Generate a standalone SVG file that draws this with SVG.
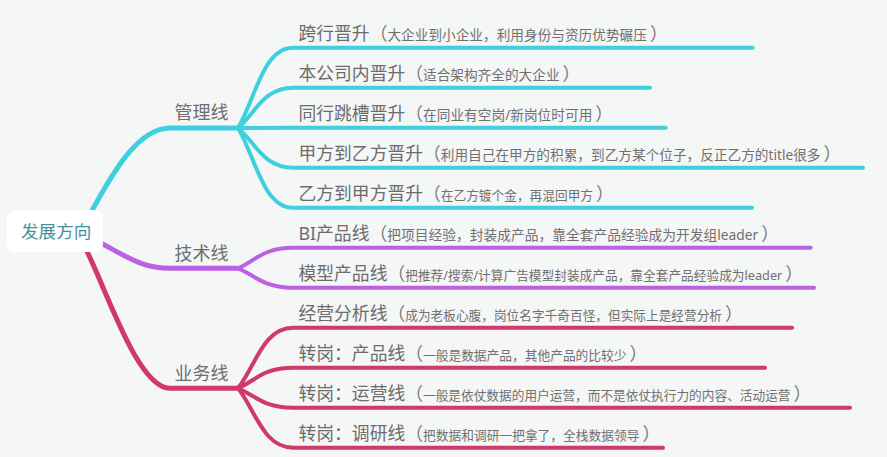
<svg xmlns="http://www.w3.org/2000/svg" width="887" height="457" viewBox="0 0 887 457">
<style>
text{font-family:"Noto Sans","Noto Sans CJK SC",sans-serif;fill:#6c6c6c}
.m{font-size:17.8px}
.p{font-size:17.8px;fill:#7a7a7a}
.s{fill:#707070}
.br{font-size:18px;fill:#6e6e6e}
.root{font-size:17.6px;fill:#46909e}
.c path{fill:none;stroke-linecap:round;stroke-linejoin:round}
.cy{stroke:#3fd0e0}
.pu{stroke:#bd61e4}
.cr{stroke:#cf396b}
.main{stroke-width:5}
.sub{stroke-width:4}
</style>
<rect width="887" height="457" fill="#f5f6f6"/>
<g id="connectors" class="c">
<path class="cy main" d="M85,222 C100,200 130,128 170,128 L238,128"/>
<path class="pu main" d="M95,240 C125,255 140,268.3 170,268.3 L238,268.3"/>
<path class="cr main" d="M82,242 C100,270 135,388.3 170,388.3 L238,388.3"/>
<path class="cy sub" d="M238,128 C255,99.9 263,47.7 293,47.7 L752.7,47.7"/>
<path class="cy sub" d="M238,128 C255,113.9 263,87.7 293,87.7 L650,87.7"/>
<path class="cy sub" d="M238,128 C255,127.9 263,127.7 293,127.7 L665.7,127.7"/>
<path class="cy sub" d="M238,128 C255,141.9 263,167.7 293,167.7 L863,167.7"/>
<path class="cy sub" d="M238,128 C255,155.9 263,207.7 293,207.7 L752,207.7"/>
<path class="pu sub" d="M238,268.3 C255,261.1 263,247.7 293,247.7 L810.7,247.7"/>
<path class="pu sub" d="M238,268.3 C255,275.1 263,287.7 293,287.7 L814,287.7"/>
<path class="cr sub" d="M238,388.3 C255,367.3 263,327.7 293,327.7 L792,327.7"/>
<path class="cr sub" d="M238,388.3 C255,381.2 263,367.7 293,367.7 L765,367.7"/>
<path class="cr sub" d="M238,388.3 C255,395.2 263,407.7 293,407.7 L850,407.7"/>
<path class="cr sub" d="M238,388.3 C255,409.2 263,447.7 293,447.7 L663,447.7"/>
</g>
<g id="root">
<rect x="7" y="210" width="96" height="42" rx="8" fill="#ffffff"/>
<text class="root" x="21" y="238">发展方向</text>
</g>
<g id="b-guanli"><text class="br" x="174.5" y="118.5">管理线</text></g>
<g id="b-jishu"><text class="br" x="174.5" y="259.5">技术线</text></g>
<g id="b-yewu"><text class="br" x="174.5" y="379.5">业务线</text></g>
<g id="n1"><text x="298.5" y="39.7"><tspan class="m">跨行晋升</tspan><tspan class="p">（</tspan><tspan class="s" font-size="13.67">大企业到小企业，利用身份与资历优势碾压</tspan><tspan class="p" dx="3">）</tspan></text></g>
<g id="n2"><text x="298.5" y="79.7"><tspan class="m">本公司内晋升</tspan><tspan class="p">（</tspan><tspan class="s" font-size="13.67">适合架构齐全的大企业</tspan><tspan class="p" dx="3">）</tspan></text></g>
<g id="n3"><text x="298.5" y="119.7"><tspan class="m">同行跳槽晋升</tspan><tspan class="p">（</tspan><tspan class="s" font-size="13.7">在同业有空岗/新岗位时可用</tspan><tspan class="p" dx="3">）</tspan></text></g>
<g id="n4"><text x="298.5" y="159.7"><tspan class="m">甲方到乙方晋升</tspan><tspan class="p">（</tspan><tspan class="s" font-size="13.67">利用自己在甲方的积累，到乙方某个位子，反正乙方的title很多</tspan><tspan class="p" dx="3">）</tspan></text></g>
<g id="n5"><text x="298.5" y="199.7"><tspan class="m">乙方到甲方晋升</tspan><tspan class="p">（</tspan><tspan class="s" font-size="12.7">在乙方镀个金，再混回甲方</tspan><tspan class="p" dx="3">）</tspan></text></g>
<g id="n6"><text x="298.5" y="239.7"><tspan class="m">BI产品线</tspan><tspan class="p">（</tspan><tspan class="s" font-size="13.75">把项目经验，封装成产品，靠全套产品经验成为开发组leader</tspan><tspan class="p" dx="3">）</tspan></text></g>
<g id="n7"><text x="298.5" y="279.7"><tspan class="m">模型产品线</tspan><tspan class="p">（</tspan><tspan class="s" font-size="12.7">把推荐/搜索/计算广告模型封装成产品，靠全套产品经验成为leader</tspan><tspan class="p" dx="3">）</tspan></text></g>
<g id="n8"><text x="298.5" y="319.7"><tspan class="m">经营分析线</tspan><tspan class="p">（</tspan><tspan class="s" font-size="12.68">成为老板心腹，岗位名字千奇百怪，但实际上是经营分析</tspan><tspan class="p" dx="3">）</tspan></text></g>
<g id="n9"><text x="298.5" y="359.7"><tspan class="m">转岗：产品线</tspan><tspan class="p">（</tspan><tspan class="s" font-size="12.73">一般是数据产品，其他产品的比较少</tspan><tspan class="p" dx="3">）</tspan></text></g>
<g id="n10"><text x="298.5" y="399.7"><tspan class="m">转岗：运营线</tspan><tspan class="p">（</tspan><tspan class="s" font-size="12.68">一般是依仗数据的用户运营，而不是依仗执行力的内容、活动运营</tspan><tspan class="p" dx="3">）</tspan></text></g>
<g id="n11"><text x="298.5" y="439.7"><tspan class="m">转岗：调研线</tspan><tspan class="p">（</tspan><tspan class="s" font-size="12.74">把数据和调研一把拿了，全栈数据领导</tspan><tspan class="p" dx="3">）</tspan></text></g>
</svg>
